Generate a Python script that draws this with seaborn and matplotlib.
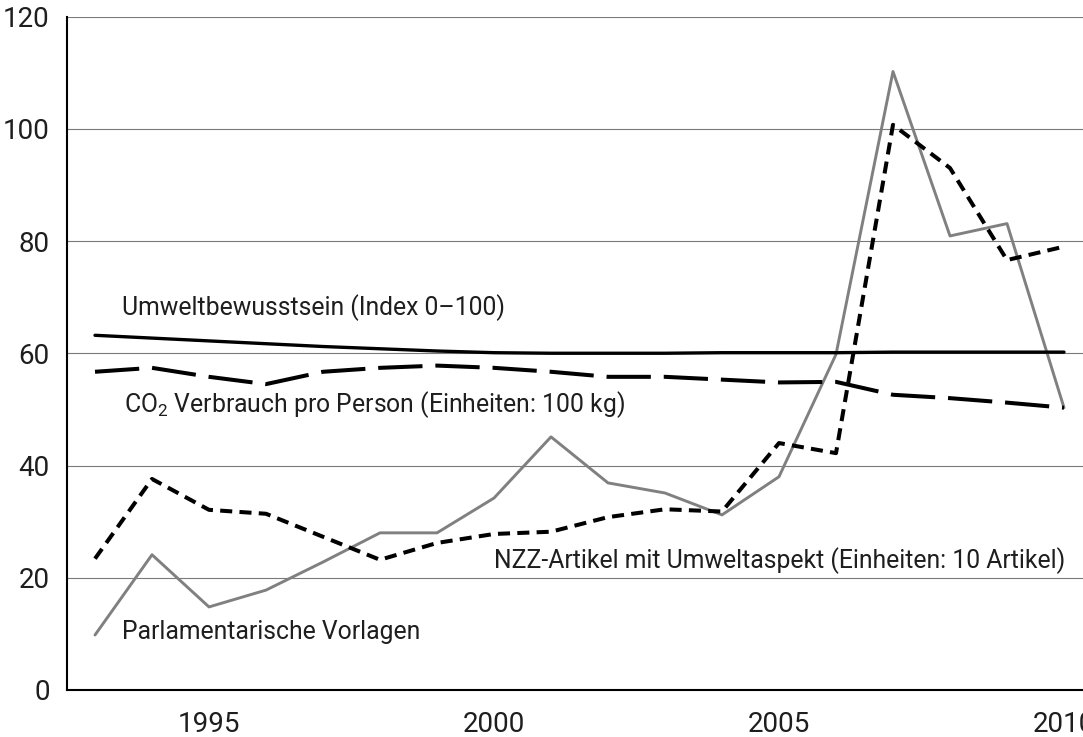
import matplotlib
matplotlib.use("Agg")
import matplotlib.pyplot as plt
from matplotlib.ticker import FixedLocator
import seaborn as sns
import pandas as pd

# Werte
jahre = list(range(1993, 2011))
umweltbewusstsein = [63.2, 62.7, 62.2, 61.7, 61.2, 60.8, 60.4, 60.1, 60.0, 60.0,
                     60.0, 60.1, 60.1, 60.1, 60.2, 60.2, 60.2, 60.2]
co2_verbrauch = [56.7, 57.4, 55.8, 54.5, 56.7, 57.4, 57.8, 57.4, 56.7, 55.8,
                 55.8, 55.3, 54.8, 54.9, 52.6, 52.0, 51.2, 50.3]
nzz_artikel = [23.4, 37.6, 32.1, 31.4, 27.3, 23.2, 26.2, 27.8, 28.2, 30.8,
               32.2, 31.8, 44.0, 42.2, 100.7, 93.0, 76.6, 79.0]
parl_vorlagen = [9.8, 24.1, 14.8, 17.8, 22.8, 28.0, 28.0, 34.2, 45.1, 36.9,
                 35.1, 31.2, 38.0, 59.8, 110.2, 80.9, 83.1, 50.3]

x_labels = [1995, 2000, 2005, 2010]
y_ticks = [0, 20, 40, 60, 80, 100, 120]

df = pd.DataFrame({
    "Jahr": jahre,
    "Umwelt": umweltbewusstsein,
    "CO2": co2_verbrauch,
    "NZZ": nzz_artikel,
    "Parl": parl_vorlagen,
})

sns.set_theme(style="white")
plt.rcParams["font.family"] = ["Roboto", "DejaVu Sans"]
plt.rcParams["mathtext.default"] = "regular"

fig = plt.figure(figsize=(10.83, 7.37), dpi=100)
ax = fig.add_axes([66.5 / 1083, 47 / 737, 1054.5 / 1083, 673.5 / 737])

# Horizontale Gitterlinien
for y in y_ticks[1:]:
    ax.axhline(y, color="#7a7a7a", linewidth=0.8, zorder=1)

sns.lineplot(data=df, x="Jahr", y="Umwelt", ax=ax, color="black", linewidth=2.4, zorder=3)
sns.lineplot(data=df, x="Jahr", y="CO2", ax=ax, color="black", linewidth=2.9, zorder=3,
             linestyle=(0, (11, 3.2)))
sns.lineplot(data=df, x="Jahr", y="Parl", ax=ax, color="#808080", linewidth=2.1, zorder=2)
sns.lineplot(data=df, x="Jahr", y="NZZ", ax=ax, color="black", linewidth=2.9, zorder=4,
             linestyle=(0, (3, 1.8)))

ax.set_xlim(1992.5, 2011)
ax.set_ylim(0, 120)

# Beschriftungen der Linien
fs = 17.8
tc = "#1e1e1e"
ax.text(1993.47, 68.1, "Umweltbewusstsein (Index 0–100)", fontsize=fs, va="center", color=tc)
ax.text(1993.5, 50.8, "CO$_2$ Verbrauch pro Person (Einheiten: 100 kg)", fontsize=fs,
        va="center", color=tc)
ax.text(2000.0, 23.0, "NZZ-Artikel mit Umweltaspekt (Einheiten: 10 Artikel)", fontsize=fs,
        va="center", color=tc)
ax.text(1993.47, 10.3, "Parlamentarische Vorlagen", fontsize=fs, va="center", color=tc)

# Achsen
ax.set_xticks(x_labels)
ax.set_xticklabels([str(v) for v in x_labels], fontsize=20, color=tc)
ax.xaxis.set_minor_locator(FixedLocator([j + 0.5 for j in jahre]))
ax.tick_params(axis="x", which="major", length=0, pad=15)
ax.tick_params(axis="x", which="minor", direction="in", length=11.5, width=1.3, color="black")
ax.set_yticks(y_ticks)
ax.set_yticklabels([str(v) for v in y_ticks], fontsize=20, color=tc)
ax.tick_params(axis="y", length=0, pad=12)

ax.set_xlabel("")
ax.set_ylabel("")
for s in ["top", "right"]:
    ax.spines[s].set_visible(False)
for s in ["left", "bottom"]:
    ax.spines[s].set_color("black")
    ax.spines[s].set_linewidth(1.5)

fig.savefig("out.png", dpi=100)
